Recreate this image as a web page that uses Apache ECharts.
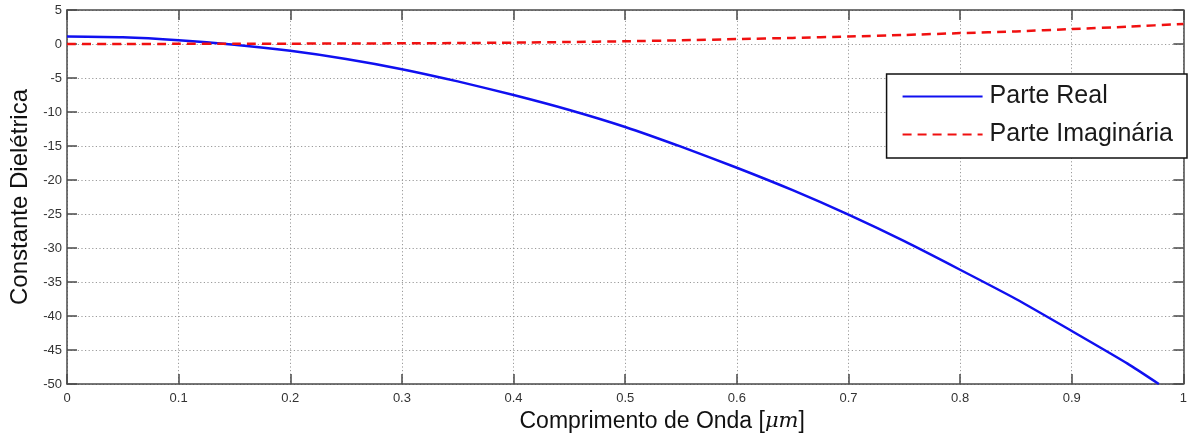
<!DOCTYPE html>
<html>
<head>
<meta charset="utf-8">
<script src="https://cdn.jsdelivr.net/npm/echarts@6/dist/echarts.min.js"></script>
<style>
  html, body { margin: 0; padding: 0; background: #fff; }
  #chart { width: 1190px; height: 443px; }
</style>
</head>
<body>
<div id="chart"></div>
<script>
// Dielectric constant of the metal versus wavelength (µm)
const wavelengthReal = [0, 0.05, 0.1, 0.15, 0.2, 0.25, 0.3, 0.35, 0.4, 0.45, 0.5,
  0.55, 0.6, 0.65, 0.7, 0.75, 0.8, 0.85, 0.9, 0.95, 0.978];
const realPart = [1.1, 0.98, 0.55, -0.1, -1.0, -2.2, -3.7, -5.5, -7.5, -9.7, -12.2,
  -15.1, -18.2, -21.5, -25.1, -29.0, -33.2, -37.5, -42.2, -47.0, -50.0];

const wavelengthImag = [0, 0.05, 0.1, 0.15, 0.2, 0.25, 0.3, 0.35, 0.4, 0.45, 0.5,
  0.55, 0.6, 0.65, 0.7, 0.75, 0.8, 0.85, 0.9, 0.95, 1.0];
const imagPart = [0, 0.01, 0.02, 0.03, 0.05, 0.07, 0.1, 0.14, 0.2, 0.29, 0.4,
  0.54, 0.72, 0.9, 1.1, 1.33, 1.6, 1.85, 2.2, 2.55, 2.95];

const seriesNames = ['Parte Real', 'Parte Imaginária'];
const xAxisTitle = 'Comprimento de Onda [{i|μm}]';
const yAxisTitle = 'Constante Dielétrica';

const pairs = (xs, ys) => xs.map((x, i) => [x, ys[i]]);

const FONT = '"Liberation Sans", Arial, sans-serif';
const frame = { show: true, onZero: false, lineStyle: { color: '#4a4a4a', width: 1.5 } };
const ticksIn = { show: true, inside: true, length: 10, lineStyle: { color: '#4a4a4a', width: 1.5 } };
const grid = { show: true, lineStyle: { color: '#9a9a9a', type: [1.2, 2.4], width: 1 } };

const chart = echarts.init(document.getElementById('chart'), null, { renderer: 'canvas' });
chart.setOption({
  animation: false,
  backgroundColor: '#ffffff',
  grid: { left: 65, right: 3, top: 10, bottom: 59, containLabel: false },
  legend: {
    orient: 'vertical',
    right: 3,
    top: 74,
    padding: [10, 14, 11, 15],
    itemWidth: 80,
    itemHeight: 16,
    itemGap: 13,
    backgroundColor: '#ffffff',
    borderColor: '#111111',
    borderWidth: 1.5,
    borderRadius: 0,
    itemStyle: { color: 'transparent', borderColor: 'transparent', borderWidth: 0, opacity: 0 },
    textStyle: { fontFamily: FONT, fontSize: 25, color: '#1a1a1a', padding: [0, 0, 0, 2] },
    data: seriesNames
  },
  xAxis: [{
    type: 'value', min: 0, max: 1, interval: 0.1,
    axisLine: frame, axisTick: ticksIn, splitLine: grid,
    axisLabel: { fontFamily: FONT, fontSize: 13, color: '#333', margin: 8 },
    name: xAxisTitle, nameLocation: 'middle', nameGap: 22,
    nameTextStyle: {
      fontFamily: FONT, fontSize: 23, color: '#111', padding: [0, 0, 0, 74],
      rich: { i: { fontFamily: '"DejaVu Serif", serif', fontStyle: 'italic', fontSize: 21, color: '#111' } }
    }
  }, {
    type: 'value', min: 0, max: 1, interval: 0.1, position: 'top',
    axisLine: frame, axisTick: ticksIn, splitLine: { show: false }, axisLabel: { show: false }
  }],
  yAxis: [{
    type: 'value', min: -50, max: 5, interval: 5,
    axisLine: frame, axisTick: ticksIn, splitLine: grid,
    axisLabel: { fontFamily: FONT, fontSize: 13, color: '#333', margin: 5 },
    name: yAxisTitle, nameLocation: 'middle', nameGap: 35,
    nameTextStyle: { fontFamily: FONT, fontSize: 24, color: '#111' }
  }, {
    type: 'value', min: -50, max: 5, interval: 5, position: 'right',
    axisLine: frame, axisTick: ticksIn, splitLine: { show: false }, axisLabel: { show: false }
  }],
  series: [{
    name: seriesNames[0], type: 'line', symbol: 'none', smooth: 0.2,
    data: pairs(wavelengthReal, realPart),
    lineStyle: { color: '#1010f0', width: 2.5 }, itemStyle: { color: '#1010f0' }
  }, {
    name: seriesNames[1], type: 'line', symbol: 'none', smooth: 0.2,
    data: pairs(wavelengthImag, imagPart),
    lineStyle: { color: '#f01010', width: 2.5, type: [9, 6] }, itemStyle: { color: '#f01010' }
  }]
});
</script>
</body>
</html>
